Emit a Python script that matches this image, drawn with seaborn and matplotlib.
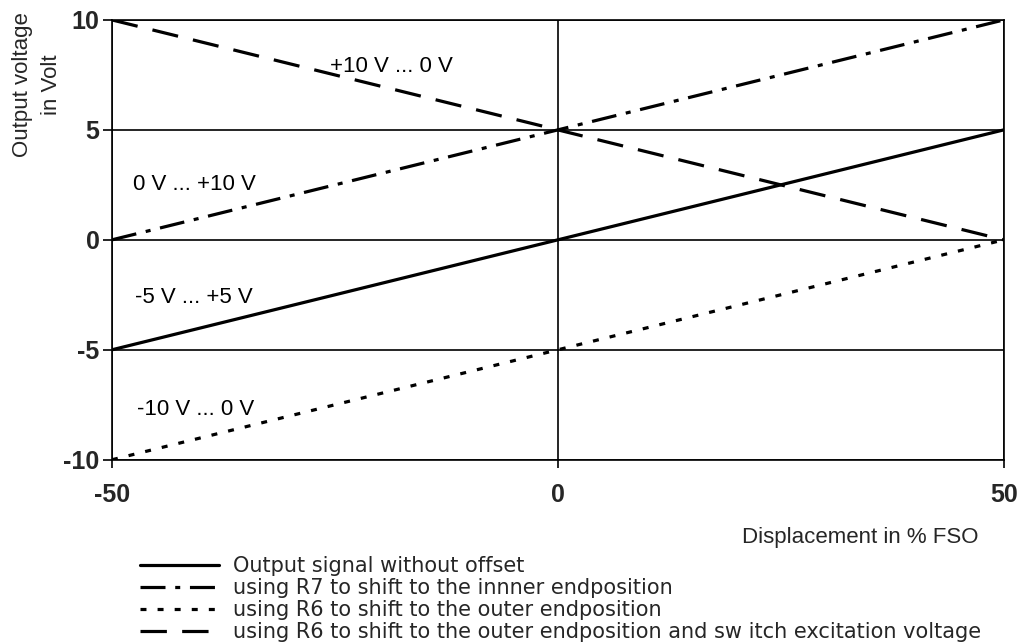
import matplotlib
matplotlib.use("Agg")
import matplotlib.pyplot as plt
import seaborn as sns
import pandas as pd

sns.set_theme(style="white")
plt.rcParams['font.family'] = ['Liberation Sans', 'DejaVu Sans']
plt.rcParams['lines.scale_dashes'] = False

displacement = [-50, 0, 50]
no_offset = [-5, 0, 5]
r7_inner = [0, 5, 10]
r6_outer = [-10, -5, 0]
r6_switch = [10, 5, 0]

labels = [
    "Output signal without offset",
    "using R7 to shift to the innner endposition",
    "using R6 to shift to the outer endposition",
    "using R6 to shift to the outer endposition and sw itch excitation voltage",
]
range_texts = ["+10 V ... 0 V", "0 V ... +10 V", "-5 V ... +5 V", "-10 V ... 0 V"]
range_pos = [(-25.6, 7.86), (-47.6, 2.5), (-47.4, -2.64), (-47.2, -7.7)]

x_ticks = [-50, 0, 50]
y_ticks = [-10, -5, 0, 5, 10]

fig = plt.figure(figsize=(10.18, 6.43), dpi=100)
ax = fig.add_axes([0.110, 0.285, 0.876, 0.684])

series = [no_offset, r7_inner, r6_outer, r6_switch]
styles = [
    '-',
    (0, (18, 7, 3.6, 7)),
    (0, (4.3, 8)),
    (0, (19, 11)),
]
for vals, ls, lab in zip(series, styles, labels):
    df = pd.DataFrame({"x": displacement, "y": vals})
    sns.lineplot(data=df, x="x", y="y", ax=ax, color="black", lw=2.3,
                 linestyle=ls, label=lab, legend=False)

ax.set_xlim(-50, 50)
ax.set_ylim(-10, 10)
ax.set_xticks(x_ticks)
ax.set_yticks(y_ticks)
ax.set_xticklabels([str(v) for v in x_ticks], fontweight="bold", fontsize=18)
ax.set_yticklabels([str(v) for v in y_ticks], fontweight="bold", fontsize=18)
ax.grid(True, color="black", lw=1.2)
for s in ax.spines.values():
    s.set_color("black")
    s.set_linewidth(1.2)
ax.tick_params(axis="y", direction="out", length=6.5, width=1.2, color="black",
               left=True, pad=2.5)
ax.tick_params(axis="x", direction="out", length=6, width=1.2, color="black",
               bottom=True, pad=11)
ax.set_xlabel("")
ax.set_ylabel("")

for t, (px, py) in zip(range_texts, range_pos):
    ax.text(px, py, t, fontsize=16, ha="left", va="center", color="black")

fig.text(37 / 1018, 1 - 85 / 643, "Output voltage\nin Volt", rotation=90,
         ha="center", va="center", fontsize=16, linespacing=1.45)
fig.text(979 / 1018, 1 - 543 / 643, "Displacement in % FSO", ha="right",
         va="baseline", fontsize=16)

handles, labs = ax.get_legend_handles_labels()
fig.legend(handles, labs, loc="upper left", bbox_to_anchor=(140 / 1018, 1 - 556 / 643),
           frameon=False, prop={"family": "DejaVu Sans", "size": 15},
           handlelength=3.8, handletextpad=0.65,
           labelspacing=0.1, borderpad=0, borderaxespad=0)

fig.savefig("out.png", dpi=100)
